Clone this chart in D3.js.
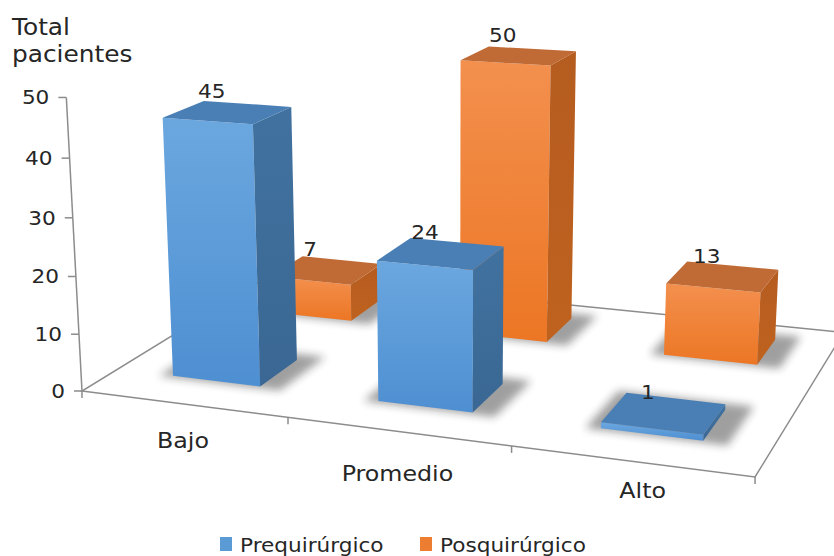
<!DOCTYPE html>
<html>
<head>
<meta charset="utf-8">
<script src="https://cdn.jsdelivr.net/npm/d3@7"></script>
<style>
  body { margin: 0; background: #fff; }
  svg { display: block; }
  text { font-family: "DejaVu Sans", Verdana, sans-serif; fill: #262626; }
</style>
</head>
<body>
<svg id="chart" width="834" height="556"></svg>
<script>
// ---- data ----
const categories = ["Bajo", "Promedio", "Alto"];
const seriesNames = ["Prequirúrgico", "Posquirúrgico"];
const prequirurgico = [45, 24, 1];
const posquirurgico = [7, 50, 13];
const yTicks = [0, 10, 20, 30, 40, 50];

// ---- scales (world units: u across categories, v into depth, t up) ----
const xScale = d3.scaleBand().domain(categories).range([0, 1])
  .paddingInner(0.566).paddingOuter(0.283);
const zScale = d3.scaleBand().domain(seriesNames).range([0, 1])
  .paddingInner(0.62).paddingOuter(0.31);
const yScale = d3.scaleLinear().domain([0, 50]).range([0, 1]);
const floorDepth = 0.95;

// ---- perspective camera: floor homography plus a vertical column ----
const cam = {
  a: 584.1, b: 254.7, c: 82,
  d: 29.8, e: -66.2, f: 391,
  g: -0.1178, h: 0.2043,
  // per unit of t (full axis height)
  p: -18.35, q: -297.5, r: -0.0406
};
function project(u, v, t) {
  const X = cam.a * u + cam.b * v + cam.c + cam.p * t;
  const Y = cam.d * u + cam.e * v + cam.f + cam.q * t;
  const W = cam.g * u + cam.h * v + 1 + cam.r * t;
  return [X / W, Y / W];
}
const poly = pts => pts.map(p => p.join(",")).join(" ");

const svg = d3.select("#chart");
const defs = svg.append("defs");

function vGrad(id, c1, c2) {
  const g = defs.append("linearGradient").attr("id", id)
    .attr("x1", 0).attr("y1", 0).attr("x2", 0).attr("y2", 1);
  g.append("stop").attr("offset", "0%").attr("stop-color", c1);
  g.append("stop").attr("offset", "100%").attr("stop-color", c2);
}
const palette = [
  { front: ["#6ba7df", "#4e8fd2"], side: ["#41729f", "#3a6794"], top: "#4a7fb5", key: "#5b9bd5" },
  { front: ["#f3904e", "#ec7624"], side: ["#b55c20", "#bf621f"], top: "#c06a35", key: "#ed7d31" }
];
palette.forEach((c, i) => {
  vGrad("front" + i, c.front[0], c.front[1]);
  vGrad("side" + i, c.side[0], c.side[1]);
});
defs.append("filter").attr("id", "soft")
  .attr("x", "-50%").attr("y", "-50%").attr("width", "200%").attr("height", "200%")
  .append("feGaussianBlur").attr("stdDeviation", 4);

// stretched text helper
function label(g, x, y, str, size, anchor) {
  return g.append("text")
    .attr("transform", `translate(${x},${y}) scale(1.08,1)`)
    .attr("font-size", size)
    .attr("text-anchor", anchor || "start")
    .text(str);
}

// ---- floor outline ----
const lineCol = "#8c8c8c";
const fl = [project(0, 0, 0), project(1, 0, 0), project(1, floorDepth, 0), project(0, floorDepth, 0)];
const floorG = svg.append("g").attr("fill", "none").attr("stroke", lineCol).attr("stroke-width", 1.5);
floorG.append("polygon").attr("points", poly(fl));

// category ticks along the front edge
[0, 1 / 3, 2 / 3, 1].forEach(u => {
  const p = project(u, 0, 0);
  floorG.append("line").attr("x1", p[0]).attr("y1", p[1]).attr("x2", p[0]).attr("y2", p[1] + 7);
});

// ---- bars ----
const rows = [
  { s: 1, values: posquirurgico },
  { s: 0, values: prequirurgico }
];
const barsG = svg.append("g");
const labelsData = [];
rows.forEach(row => {
  const name = seriesNames[row.s];
  const v0 = zScale(name), v1 = v0 + zScale.bandwidth();
  row.values.forEach((val, i) => {
    const u0 = xScale(categories[i]), u1 = u0 + xScale.bandwidth();
    const t = yScale(val);
    // shadow on the floor
    barsG.append("polygon")
      .attr("points", poly([project(u0 - 0.02, v0 - 0.01, 0), project(u1 + 0.035, v0 - 0.01, 0),
                            project(u1 + 0.035, v1 + 0.04, 0), project(u0 - 0.02, v1 + 0.04, 0)]))
      .attr("fill", "#1e1e1e").attr("opacity", 0.42).attr("filter", "url(#soft)");
    // front face
    barsG.append("polygon")
      .attr("points", poly([project(u0, v0, 0), project(u1, v0, 0), project(u1, v0, t), project(u0, v0, t)]))
      .attr("fill", `url(#front${row.s})`);
    // right side face
    barsG.append("polygon")
      .attr("points", poly([project(u1, v0, 0), project(u1, v1, 0), project(u1, v1, t), project(u1, v0, t)]))
      .attr("fill", `url(#side${row.s})`);
    // top face
    barsG.append("polygon")
      .attr("points", poly([project(u0, v0, t), project(u1, v0, t), project(u1, v1, t), project(u0, v1, t)]))
      .attr("fill", palette[row.s].top);
    labelsData.push({ val, pos: project((u0 + u1) / 2, (v0 + v1) / 2, t) });
  });
});

// ---- vertical axis ----
const axisG = svg.append("g");
const a0 = project(0, 0, 0), a1 = project(0, 0, 1);
axisG.append("line").attr("x1", a0[0]).attr("y1", a0[1]).attr("x2", a1[0]).attr("y2", a1[1])
  .attr("stroke", lineCol).attr("stroke-width", 1.5);
yTicks.forEach(tk => {
  const p = project(0, 0, yScale(tk));
  axisG.append("line").attr("x1", p[0] - 8).attr("y1", p[1]).attr("x2", p[0]).attr("y2", p[1])
    .attr("stroke", lineCol).attr("stroke-width", 1.5);
  label(axisG, p[0] - 17, p[1] + 7, tk, 20, "end");
});

// ---- category labels (staggered below the front edge) ----
const categoryDrop = [44, 50, 37];
categories.forEach((c, i) => {
  const p = project(xScale(c) + xScale.bandwidth() / 2, 0, 0);
  label(svg, p[0] + (i === 2 ? 12 : 0), p[1] + categoryDrop[i], c, 22, "middle");
});

// ---- data labels ----
labelsData.forEach(d => label(svg, d.pos[0] - 16, d.pos[1] - 14, d.val, 20, "middle"));

// ---- axis title ----
label(svg, 12, 35, "Total", 23);
label(svg, 12, 62, "pacientes", 23);

// ---- legend ----
const legend = svg.append("g");
const legendX = [220, 420];
seriesNames.forEach((n, i) => {
  legend.append("rect").attr("x", legendX[i]).attr("y", 537).attr("width", 12).attr("height", 14)
    .attr("fill", palette[i].key);
  label(legend, legendX[i] + 20, 552, n, 20);
});
</script>
</body>
</html>
